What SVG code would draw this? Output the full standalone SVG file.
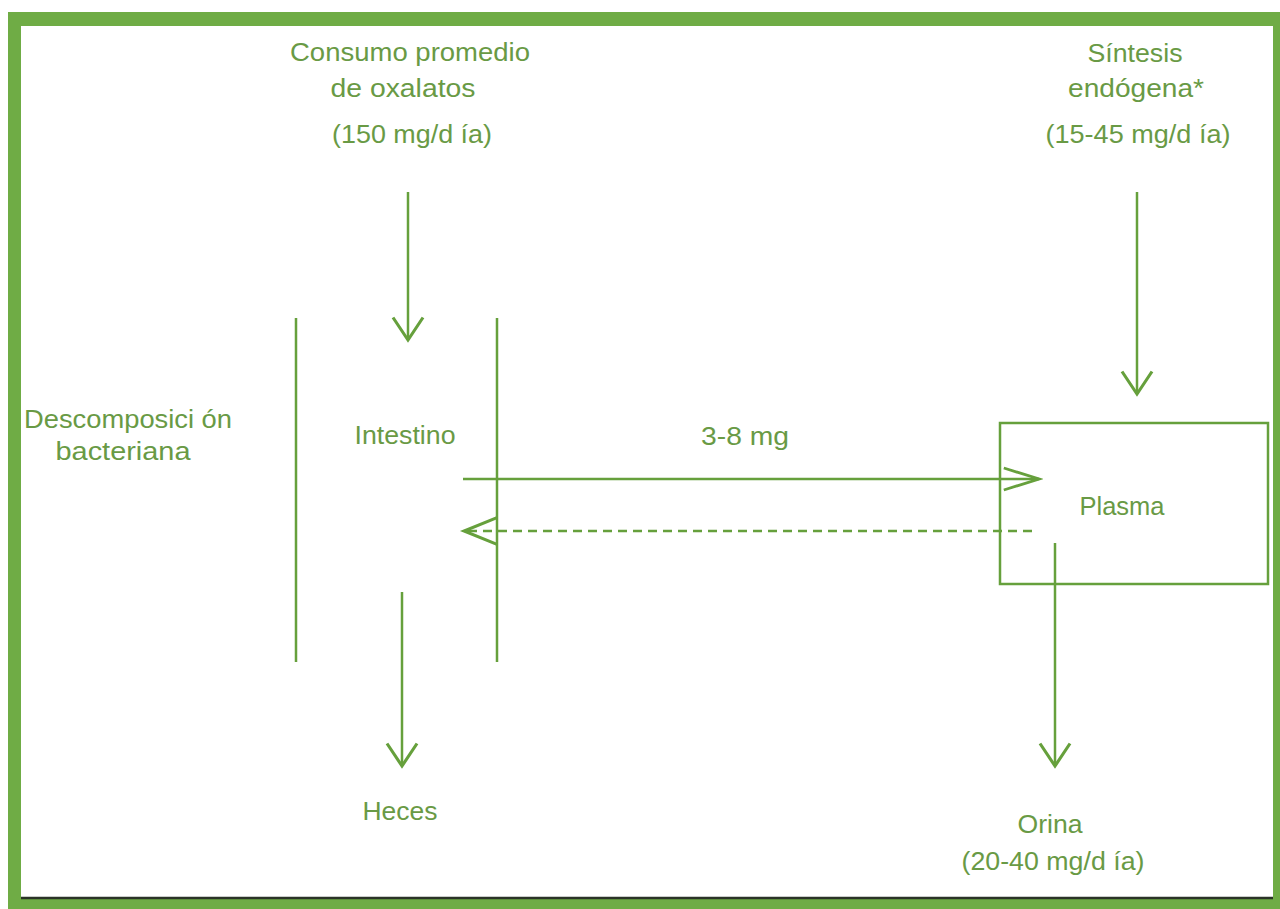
<svg xmlns="http://www.w3.org/2000/svg" width="1280" height="909" viewBox="0 0 1280 909">
  <style>
    .t { font-family: "Liberation Sans", Arial, sans-serif; font-size: 25px; fill: #699a45; text-anchor: middle; }
    .ln { stroke: #66a03c; stroke-width: 2.5; fill: none; }
    .dash { stroke-dasharray: 9 6; }
  </style>
  <defs>
    <marker id="vdown" markerUnits="userSpaceOnUse" markerWidth="40" markerHeight="40" viewBox="-22 -16 26 32" refX="0" refY="0" orient="auto">
      <path d="M-18,-12 L0,0 L-18,12" fill="none" stroke="#66a03c" stroke-width="2.5"/>
    </marker>
    <marker id="vhor" markerUnits="userSpaceOnUse" markerWidth="44" markerHeight="40" viewBox="-36 -14 40 28" refX="0" refY="0" orient="auto">
      <path d="M-32,-10 L0,0 L-32,10" fill="none" stroke="#66a03c" stroke-width="2.5"/>
    </marker>
    <marker id="vleft" markerUnits="userSpaceOnUse" markerWidth="44" markerHeight="40" viewBox="-32 -14 36 28" refX="0" refY="0" orient="auto">
      <path d="M-27,-11 L0,0 L-27,11" fill="none" stroke="#66a03c" stroke-width="2.5"/>
    </marker>
  </defs>

  <g id="frame">
    <rect x="0" y="0" width="1280" height="909" fill="#ffffff"/>
    <rect x="8" y="12" width="1272" height="897" fill="#6fac45"/>
    <rect x="21" y="26" width="1252" height="872" fill="#ffffff"/>
    <line x1="21" y1="898" x2="1273" y2="898" stroke="#2b3327" stroke-width="2.5"/>
  </g>

  <g id="consumo">
    <text class="t" x="410" y="61" textLength="240" lengthAdjust="spacingAndGlyphs">Consumo promedio</text>
    <text class="t" x="403" y="97" textLength="145" lengthAdjust="spacingAndGlyphs">de oxalatos</text>
    <text class="t" x="412" y="143" textLength="160" lengthAdjust="spacingAndGlyphs">(150 mg/d ía)</text>
  </g>

  <g id="sintesis">
    <text class="t" x="1135" y="62" textLength="95" lengthAdjust="spacingAndGlyphs">Síntesis</text>
    <text class="t" x="1136" y="97" textLength="136" lengthAdjust="spacingAndGlyphs">endógena*</text>
    <text class="t" x="1138" y="143" textLength="185" lengthAdjust="spacingAndGlyphs">(15-45 mg/d ía)</text>
  </g>

  <g id="descomposicion">
    <text class="t" x="128" y="428" textLength="208" lengthAdjust="spacingAndGlyphs">Descomposici ón</text>
    <text class="t" x="123" y="460" textLength="135" lengthAdjust="spacingAndGlyphs">bacteriana</text>
  </g>

  <g id="intestino">
    <line class="ln" x1="296" y1="318" x2="296" y2="662"/>
    <line class="ln" x1="497" y1="318" x2="497" y2="662"/>
    <text class="t" x="405" y="444" textLength="101" lengthAdjust="spacingAndGlyphs">Intestino</text>
  </g>

  <g id="plasma">
    <rect class="ln" x="1000" y="423" width="268" height="161"/>
    <text class="t" x="1122" y="515" textLength="85" lengthAdjust="spacingAndGlyphs">Plasma</text>
  </g>

  <g id="heces">
    <text class="t" x="400" y="820" textLength="75" lengthAdjust="spacingAndGlyphs">Heces</text>
  </g>

  <g id="orina">
    <text class="t" x="1050" y="833" textLength="65" lengthAdjust="spacingAndGlyphs">Orina</text>
    <text class="t" x="1053" y="870" textLength="183" lengthAdjust="spacingAndGlyphs">(20-40 mg/d ía)</text>
  </g>

  <g id="connectors">
    <line class="ln" x1="408" y1="192" x2="408" y2="340" marker-end="url(#vdown)"/>
    <line class="ln" x1="1137" y1="192" x2="1137" y2="394" marker-end="url(#vdown)"/>
    <line class="ln" x1="463" y1="479" x2="1039" y2="479" marker-end="url(#vhor)"/>
    <line class="ln dash" x1="1032" y1="531" x2="464" y2="531" marker-end="url(#vleft)"/>
    <line class="ln" x1="1055" y1="543" x2="1055" y2="766" marker-end="url(#vdown)"/>
    <line class="ln" x1="402" y1="592" x2="402" y2="766" marker-end="url(#vdown)"/>
    <text class="t" x="745" y="445" textLength="88" lengthAdjust="spacingAndGlyphs">3-8 mg</text>
  </g>
</svg>
